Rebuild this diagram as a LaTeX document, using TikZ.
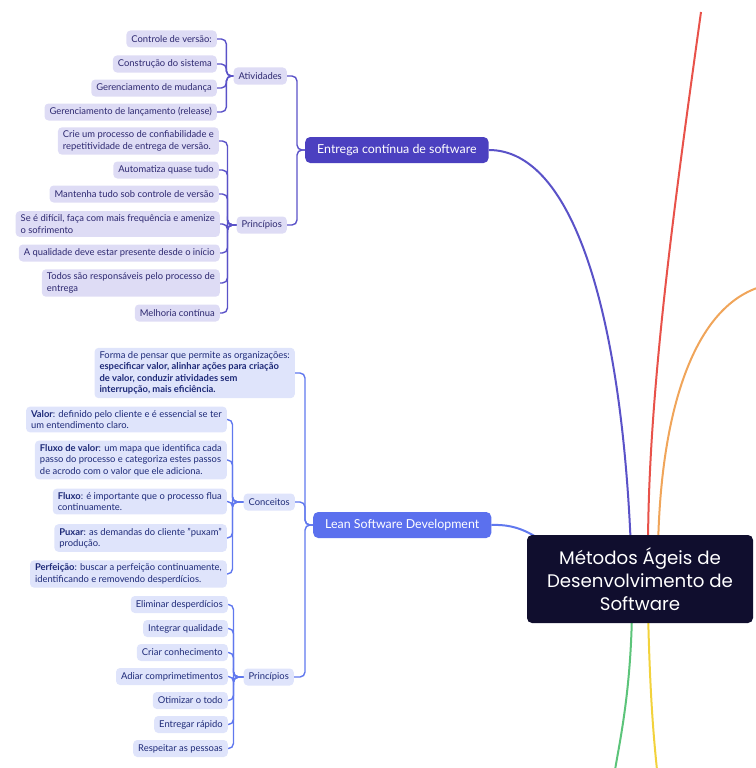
\documentclass[tikz,border=0pt]{standalone}
\usepackage{fontspec}
\setmainfont{Lato}
\newfontfamily\titlefont{Poppins}
\usetikzlibrary{backgrounds}

\definecolor{indFill}{HTML}{4B40C0}
\definecolor{indLine}{HTML}{5A52C8}
\definecolor{lavA}{HTML}{DEDCF5}
\definecolor{inkA}{HTML}{2D2870}
\definecolor{bluFill}{HTML}{5B70EE}
\definecolor{bluLine}{HTML}{6078EE}
\definecolor{lavB}{HTML}{DFE4FB}
\definecolor{inkB}{HTML}{1E2A78}
\definecolor{navy}{HTML}{100E2E}
\definecolor{redL}{HTML}{E8524A}
\definecolor{orangeL}{HTML}{F0A55A}
\definecolor{greenL}{HTML}{5CC47A}
\definecolor{yellowL}{HTML}{F2D23C}

\tikzset{
  leaf/.style={rounded corners=4, inner xsep=5, inner ysep=3.6, minimum height=17,
    font=\fontsize{9.4}{11.5}\selectfont, align=left, anchor=east},
  leafA/.style={leaf, fill=lavA, text=inkA},
  leafB/.style={leaf, fill=lavB, text=inkB},
  branch/.style={rounded corners=5, minimum height=26, inner xsep=12, anchor=west,
    font=\fontsize{12.4}{14}\selectfont, text=white},
  connA/.style={draw=indLine, line width=1.4, rounded corners=5},
  connB/.style={draw=bluLine, line width=1.4, rounded corners=5},
  trunk/.style={line width=2},
}

\begin{document}
\begin{tikzpicture}[x=1pt,y=-1pt]
\useasboundingbox (0,0) rectangle (755,768);

% ---------- central topic ----------
\node[fill=navy, text=white, rounded corners=5, minimum width=226, minimum height=88,
      align=center, font=\titlefont\fontsize{18.2}{23}\selectfont] (core) at (640,579)
  {Métodos Ágeis de\\Desenvolvimento de\\Software};

% ---------- branch: Entrega contínua ----------
\node[branch, fill=indFill] (ent) at (305,150) {Entrega contínua de software};

\node[leafA] (ativ) at (287,76) {Atividades};
\node[leafA] (a1) at (217,39) {Controle de versão:};
\node[leafA] (a2) at (217,64) {Construção do sistema};
\node[leafA] (a3) at (217,88) {Gerenciamento de mudança};
\node[leafA] (a4) at (217,112) {Gerenciamento de lançamento (release)};

\node[leafA] (prA) at (287,225) {Princípios};
\node[leafA] (p1) at (219,141) {Crie um processo de confiabilidade e\\repetitividade de entrega de versão.};
\node[leafA] (p2) at (219,170) {Automatiza quase tudo};
\node[leafA] (p3) at (219,194) {Mantenha tudo sob controle de versão};
\node[leafA] (p4) at (220,224) {Se é difícil, faça com mais frequência e amenize\\o sofrimento};
\node[leafA] (p5) at (220,253) {A qualidade deve estar presente desde o início};
\node[leafA] (p6) at (220,283) {Todos são responsáveis pelo processo de\\entrega};
\node[leafA] (p7) at (220,313) {Melhoria contínua};

\coordinate (jEnt) at ([xshift=-8]ent.west);
\coordinate (jAtiv) at ([xshift=-7]ativ.west);
\coordinate (jPrA) at ([xshift=-9]prA.west);

\foreach \c in {ativ,prA} \draw[connA] (\c.east) -| (jEnt) -- (ent.west);
\foreach \c in {a1,a2,a3,a4} \draw[connA] (\c.east) -| (jAtiv) -- (ativ.west);
\foreach \c in {p1,p2,p3,p4,p5,p6,p7} \draw[connA] (\c.east) -| (jPrA) -- (prA.west);

% ---------- branch: Lean ----------
\node[branch, fill=bluFill] (lean) at (313,525) {Lean Software Development};

\node[leafB] (forma) at (295,373) {Forma de pensar que permite as organizações:\\
  \textbf{especificar valor, alinhar ações para criação}\\
  \textbf{de valor, conduzir atividades sem}\\
  \textbf{interrupção, mais eficiência.}};

\node[leafB] (conc) at (295,502) {Conceitos};
\node[leafB] (v1) at (227,419.5) {\textbf{Valor}: definido pelo cliente e é essencial se ter\\um entendimento claro.};
\node[leafB] (v2) at (227,460) {\textbf{Fluxo de valor}: um mapa que identifica cada\\passo do processo e categoriza estes passos\\de acrodo com o valor que ele adiciona.};
\node[leafB] (v3) at (227,501.5) {\textbf{Fluxo}: é importante que o processo flua\\continuamente.};
\node[leafB] (v4) at (227,538) {\textbf{Puxar}: as demandas do cliente "puxam"\\produção.};
\node[leafB] (v5) at (227,574) {\textbf{Perfeição}: buscar a perfeição continuamente,\\identificando e removendo desperdícios.};

\node[leafB] (prB) at (294,677) {Princípios};
\node[leafB] (q1) at (228,604.5) {Eliminar desperdícios};
\node[leafB] (q2) at (228,628.5) {Integrar qualidade};
\node[leafB] (q3) at (228,652.5) {Criar conhecimento};
\node[leafB] (q4) at (228,676.5) {Adiar comprimetimentos};
\node[leafB] (q5) at (228,700.5) {Otimizar o todo};
\node[leafB] (q6) at (228,724.5) {Entregar rápido};
\node[leafB] (q7) at (228,748.5) {Respeitar as pessoas};

\coordinate (jLean) at ([xshift=-8]lean.west);
\coordinate (jConc) at ([xshift=-11]conc.west);
\coordinate (jPrB) at ([xshift=-10]prB.west);

\foreach \c in {forma,conc,prB} \draw[connB] (\c.east) -| (jLean) -- (lean.west);
\foreach \c in {v1,v2,v3,v4,v5} \draw[connB] (\c.east) -| (jConc) -- (conc.west);
\foreach \c in {q1,q2,q3,q4,q5,q6,q7} \draw[connB] (\c.east) -| (jPrB) -- (prB.west);

% ---------- main branches into the central topic ----------
\coordinate (kEnt) at (631,550);
\coordinate (kLean) at (548,545);
\coordinate (kRed) at (648,550);
\coordinate (kOrange) at (658,550);
\coordinate (kGreen) at (632,610);
\coordinate (kYellow) at (648,610);
\coordinate (tRed) at (701,12);
\coordinate (tOrange) at (757,288);
\coordinate (tGreen) at (615,770);
\coordinate (tYellow) at (657,770);

\begin{scope}[on background layer]
  \draw[trunk, draw=indLine] (ent.east) .. controls (575,150) and (622,320) .. (kEnt);
  \draw[trunk, draw=bluLine] (lean.east) .. controls (515,524) and (530,532) .. (kLean);
  \draw[trunk, draw=redL] (tRed) .. controls (672,220) and (648,400) .. (kRed);
  \draw[trunk, draw=orangeL] (tOrange) .. controls (690,312) and (660,420) .. (kOrange);
  \draw[trunk, draw=greenL] (kGreen) .. controls (631,690) and (620,740) .. (tGreen);
  \draw[trunk, draw=yellowL] (kYellow) .. controls (650,700) and (654,740) .. (tYellow);
\end{scope}
\end{tikzpicture}
\end{document}
